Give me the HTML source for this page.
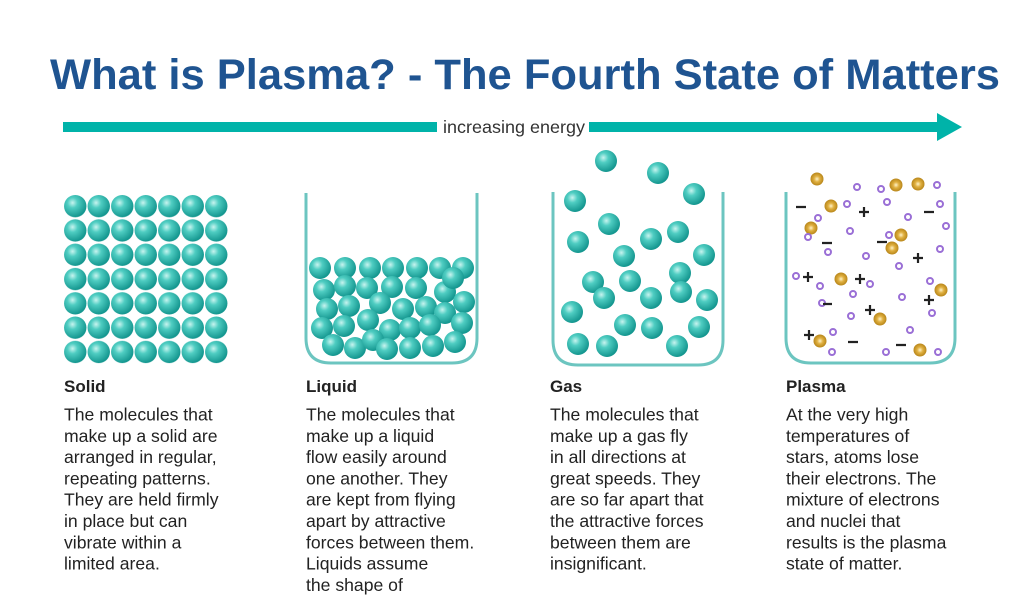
<!DOCTYPE html>
<html><head><meta charset="utf-8"><style>
html,body{margin:0;padding:0;background:#fff;}
svg{display:block;}
</style></head><body>
<svg width="1024" height="604" viewBox="0 0 1024 604" xmlns="http://www.w3.org/2000/svg">
<defs>
<radialGradient id="b" cx="0.38" cy="0.35" r="0.65">
<stop offset="0" stop-color="#c8f4ef"/><stop offset="0.35" stop-color="#4fcdc2"/><stop offset="1" stop-color="#14968f"/>
</radialGradient>
<radialGradient id="g" cx="0.5" cy="0.5" r="0.5">
<stop offset="0" stop-color="#fff3c8"/><stop offset="0.45" stop-color="#e0b040"/><stop offset="1" stop-color="#b8861a"/>
</radialGradient>
<pattern id="grid" x="63.5" y="194" width="23.5" height="24.3" patternUnits="userSpaceOnUse">
<circle cx="11.75" cy="12.15" r="11.2" fill="url(#b)"/>
</pattern>
</defs>
<text x="525" y="89" text-anchor="middle" font-family="Liberation Sans, sans-serif" font-weight="bold" font-size="43" fill="#1f5491" textLength="950" lengthAdjust="spacingAndGlyphs">What is Plasma? - The Fourth State of Matters</text>

<rect x="63" y="122" width="374" height="10" fill="#00b3a9"/>
<text x="514" y="133" text-anchor="middle" font-family="Liberation Sans, sans-serif" font-size="17.5" fill="#333" textLength="142" lengthAdjust="spacingAndGlyphs">increasing energy</text>
<rect x="589" y="122" width="350" height="10" fill="#00b3a9"/>
<polygon points="937,113 962,127 937,141" fill="#00b3a9"/>

<rect x="63.5" y="194" width="164.5" height="170" fill="url(#grid)"/>

<g fill="none" stroke="#6cc5c0" stroke-width="3">
<path d="M306,193 V338 Q306,363 331,363 H452 Q477,363 477,338 V193"/>
<path d="M553,192 V340 Q553,365 578,365 H698 Q723,365 723,340 V192"/>
<path d="M786,192 V338 Q786,363 811,363 H930 Q955,363 955,338 V192"/>
</g>

<g fill="url(#b)">
<circle cx="320" cy="268" r="11"/><circle cx="345" cy="268" r="11"/><circle cx="370" cy="268" r="11"/><circle cx="393" cy="268" r="11"/><circle cx="417" cy="268" r="11"/><circle cx="440" cy="268" r="11"/><circle cx="463" cy="268" r="11"/>
<circle cx="324" cy="290" r="11"/><circle cx="345" cy="286" r="11"/><circle cx="367" cy="288" r="11"/><circle cx="392" cy="287" r="11"/><circle cx="416" cy="288" r="11"/><circle cx="445" cy="292" r="11"/><circle cx="453" cy="278" r="11"/>
<circle cx="327" cy="309" r="11"/><circle cx="349" cy="306" r="11"/><circle cx="380" cy="303" r="11"/><circle cx="403" cy="309" r="11"/><circle cx="426" cy="307" r="11"/><circle cx="445" cy="313" r="11"/><circle cx="464" cy="302" r="11"/>
<circle cx="322" cy="328" r="11"/><circle cx="344" cy="326" r="11"/><circle cx="368" cy="320" r="11"/><circle cx="390" cy="330" r="11"/><circle cx="410" cy="328" r="11"/><circle cx="430" cy="325" r="11"/><circle cx="462" cy="323" r="11"/>
<circle cx="333" cy="345" r="11"/><circle cx="355" cy="348" r="11"/><circle cx="373" cy="340" r="11"/><circle cx="387" cy="349" r="11"/><circle cx="410" cy="348" r="11"/><circle cx="433" cy="346" r="11"/><circle cx="455" cy="342" r="11"/>
</g>

<g fill="url(#b)">
<circle cx="606" cy="161" r="11"/><circle cx="658" cy="173" r="11"/><circle cx="575" cy="201" r="11"/><circle cx="694" cy="194" r="11"/><circle cx="609" cy="224" r="11"/><circle cx="578" cy="242" r="11"/><circle cx="651" cy="239" r="11"/><circle cx="678" cy="232" r="11"/><circle cx="624" cy="256" r="11"/><circle cx="704" cy="255" r="11"/><circle cx="593" cy="282" r="11"/><circle cx="630" cy="281" r="11"/><circle cx="680" cy="273" r="11"/><circle cx="604" cy="298" r="11"/><circle cx="651" cy="298" r="11"/><circle cx="681" cy="292" r="11"/><circle cx="707" cy="300" r="11"/><circle cx="572" cy="312" r="11"/><circle cx="625" cy="325" r="11"/><circle cx="652" cy="328" r="11"/><circle cx="699" cy="327" r="11"/><circle cx="578" cy="344" r="11"/><circle cx="607" cy="346" r="11"/><circle cx="677" cy="346" r="11"/>
</g>

<g fill="url(#g)">
<circle cx="817" cy="179" r="6.5"/><circle cx="896" cy="185" r="6.5"/><circle cx="918" cy="184" r="6.5"/><circle cx="831" cy="206" r="6.5"/><circle cx="811" cy="228" r="6.5"/><circle cx="901" cy="235" r="6.5"/><circle cx="892" cy="248" r="6.5"/><circle cx="841" cy="279" r="6.5"/><circle cx="941" cy="290" r="6.5"/><circle cx="880" cy="319" r="6.5"/><circle cx="820" cy="341" r="6.5"/><circle cx="920" cy="350" r="6.5"/>
</g>
<g fill="#fff" stroke="#9a6fd6" stroke-width="2">
<circle cx="857" cy="187" r="3"/><circle cx="881" cy="189" r="3"/><circle cx="937" cy="185" r="3"/><circle cx="847" cy="204" r="3"/><circle cx="887" cy="202" r="3"/><circle cx="940" cy="204" r="3"/><circle cx="818" cy="218" r="3"/><circle cx="908" cy="217" r="3"/><circle cx="946" cy="226" r="3"/><circle cx="808" cy="237" r="3"/><circle cx="850" cy="231" r="3"/><circle cx="889" cy="235" r="3"/><circle cx="828" cy="252" r="3"/><circle cx="866" cy="256" r="3"/><circle cx="940" cy="249" r="3"/><circle cx="899" cy="266" r="3"/><circle cx="796" cy="276" r="3"/><circle cx="820" cy="286" r="3"/><circle cx="870" cy="284" r="3"/><circle cx="930" cy="281" r="3"/><circle cx="902" cy="297" r="3"/><circle cx="851" cy="316" r="3"/><circle cx="822" cy="303" r="3"/><circle cx="932" cy="313" r="3"/><circle cx="910" cy="330" r="3"/><circle cx="833" cy="332" r="3"/><circle cx="832" cy="352" r="3"/><circle cx="886" cy="352" r="3"/><circle cx="938" cy="352" r="3"/><circle cx="853" cy="294" r="3"/>
</g>
<g stroke="#222" stroke-width="2.2">
<path d="M796,207h10M924,212h10M822,243h10M877,242h10M823,304h9M848,342h10M896,345h10"/>
<path d="M864,207v10M859,212h10M918,253v10M913,258h10M808,272v10M803,277h10M860,274v10M855,279h10M870,305v10M865,310h10M929,295v10M924,300h10M809,330v10M804,335h10"/>
</g>

<g font-family="Liberation Sans, sans-serif" fill="#222">
<g font-weight="bold" font-size="17">
<text x="64" y="392">Solid</text><text x="306" y="392">Liquid</text><text x="550" y="392">Gas</text><text x="786" y="392">Plasma</text>
</g>
<g font-size="17.6">
<text x="64" y="420.5">The molecules that</text>
<text x="64" y="441.8">make up a solid are</text>
<text x="64" y="463.1">arranged in regular,</text>
<text x="64" y="484.4">repeating patterns.</text>
<text x="64" y="505.7">They are held firmly</text>
<text x="64" y="527">in place but can</text>
<text x="64" y="548.3">vibrate within a</text>
<text x="64" y="569.6">limited area.</text>

<text x="306" y="420.5">The molecules that</text>
<text x="306" y="441.8">make up a liquid</text>
<text x="306" y="463.1">flow easily around</text>
<text x="306" y="484.4">one another. They</text>
<text x="306" y="505.7">are kept from flying</text>
<text x="306" y="527">apart by attractive</text>
<text x="306" y="548.3">forces between them.</text>
<text x="306" y="569.6">Liquids assume</text>
<text x="306" y="590.9">the shape of</text>

<text x="550" y="420.5">The molecules that</text>
<text x="550" y="441.8">make up a gas fly</text>
<text x="550" y="463.1">in all directions at</text>
<text x="550" y="484.4">great speeds. They</text>
<text x="550" y="505.7">are so far apart that</text>
<text x="550" y="527">the attractive forces</text>
<text x="550" y="548.3">between them are</text>
<text x="550" y="569.6">insignificant.</text>

<text x="786" y="420.5">At the very high</text>
<text x="786" y="441.8">temperatures of</text>
<text x="786" y="463.1">stars, atoms lose</text>
<text x="786" y="484.4">their electrons. The</text>
<text x="786" y="505.7">mixture of electrons</text>
<text x="786" y="527">and nuclei that</text>
<text x="786" y="548.3">results is the plasma</text>
<text x="786" y="569.6">state of matter.</text>
</g>
</g>
</svg>
</body></html>
